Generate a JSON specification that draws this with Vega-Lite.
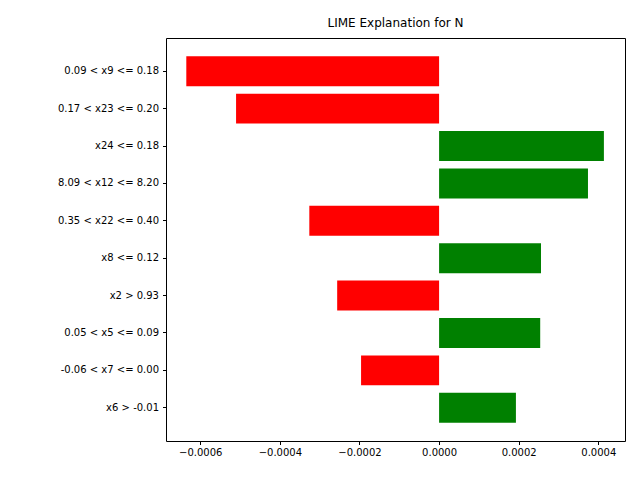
{
  "$schema": "https://vega.github.io/schema/vega-lite/v6.json",
  "width": 459,
  "height": 403,
  "autosize": {"type": "none"},
  "padding": {"left": 166, "top": 38, "right": 15, "bottom": 39},
  "title": {"text": "LIME Explanation for N", "font": "DejaVu Sans", "fontSize": 12, "fontWeight": "normal", "color": "black", "offset": 8},
  "config": {"view": {"stroke": "black", "strokeWidth": 1}, "font": "DejaVu Sans"},
  "data": {"values": [
    {"feature": "0.09 < x9 <= 0.18", "weight": -0.000635},
    {"feature": "0.17 < x23 <= 0.20", "weight": -0.000510},
    {"feature": "x24 <= 0.18", "weight": 0.000414},
    {"feature": "8.09 < x12 <= 8.20", "weight": 0.000374},
    {"feature": "0.35 < x22 <= 0.40", "weight": -0.000326},
    {"feature": "x8 <= 0.12", "weight": 0.000256},
    {"feature": "x2 > 0.93", "weight": -0.000256},
    {"feature": "0.05 < x5 <= 0.09", "weight": 0.000254},
    {"feature": "-0.06 < x7 <= 0.00", "weight": -0.000196},
    {"feature": "x6 > -0.01", "weight": 0.000193}
  ]},
  "mark": {"type": "bar"},
  "encoding": {
    "y": {"field": "feature", "type": "nominal", "sort": null,
      "scale": {"paddingInner": 0.2, "paddingOuter": 0.49},
      "axis": {"title": null, "labelFontSize": 10, "labelColor": "black", "tickColor": "black", "domain": false, "labelPadding": 4, "tickSize": 3.5}},
    "x": {"field": "weight", "type": "quantitative",
      "scale": {"domain": [-0.000686, 0.000467], "nice": false, "zero": false},
      "axis": {"title": null, "grid": false, "values": [-0.0006, -0.0004, -0.0002, 0, 0.0002, 0.0004],
        "labelExpr": "replace(format(datum.value, '.4f'), '-', '−')",
        "labelFontSize": 10, "labelColor": "black", "tickColor": "black", "domain": false, "tickSize": 3.5, "labelPadding": 3}},
    "color": {"condition": {"test": "datum.weight > 0", "value": "green"}, "value": "red"}
  }
}
